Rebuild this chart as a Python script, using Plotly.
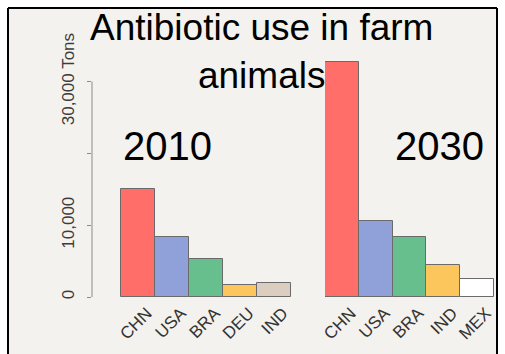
import plotly.graph_objects as go

# Antibiotic consumption in livestock, top five countries (tons)
countries_2010 = ["CHN", "USA", "BRA", "DEU", "IND"]
tons_2010 = [15100, 8300, 5300, 1700, 1900]
colors_2010 = ["#ff6e69", "#8fa1d8", "#66bf8c", "#fdc65c", "#dbcdbf"]

countries_2030 = ["CHN", "USA", "BRA", "IND", "MEX"]
tons_2030 = [32700, 10600, 8300, 4500, 2500]
colors_2030 = ["#ff6e69", "#8fa1d8", "#66bf8c", "#fdc65c", "#ffffff"]

y_tick_vals = [0, 10000, 20000, 30000]
y_tick_text = ["0", "10,000", "", "30,000 Tons"]

W, H = 505, 354
FONT = "Arial, Liberation Sans, sans-serif"


def px(x):
    return x / W


def py(y):
    return 1 - y / H


fig = go.Figure()

fig.add_trace(go.Bar(
    x=countries_2010, y=tons_2010, xaxis="x", yaxis="y",
    marker=dict(color=colors_2010, line=dict(color="#6a6a6a", width=1)),
    showlegend=False,
))
fig.add_trace(go.Bar(
    x=countries_2030, y=tons_2030, xaxis="x2", yaxis="y2",
    marker=dict(color=colors_2030, line=dict(color="#6a6a6a", width=1)),
    showlegend=False,
))

y_domain = [py(297), py(40)]
y_range = [0, 35800]
tick_font = dict(family=FONT, size=17, color="#333333")

fig.update_layout(
    width=W, height=H,
    margin=dict(l=0, r=0, t=0, b=0),
    paper_bgcolor="#ffffff",
    plot_bgcolor="rgba(0,0,0,0)",
    bargap=0,
    xaxis=dict(
        domain=[px(92), px(291)], range=[-1.35, 4.5],
        showgrid=False, zeroline=False, showline=False, ticks="",
        tickangle=-45, tickfont=tick_font, anchor="y", automargin=False,
        ticklabelshift=9, ticklabelstandoff=2,
    ),
    xaxis2=dict(
        domain=[px(325), px(494)], range=[-0.5, 4.5],
        showgrid=False, zeroline=False, showline=False, ticks="",
        tickangle=-45, tickfont=tick_font, anchor="y2", automargin=False,
        ticklabelshift=9, ticklabelstandoff=2,
    ),
    yaxis=dict(
        domain=y_domain, range=y_range,
        tickvals=y_tick_vals, ticktext=y_tick_text,
        tickangle=-90, tickfont=dict(family=FONT, size=17, color="#3c3c3c"),
        ticks="outside", ticklen=4, tickcolor="#8a8a8a", tickwidth=1,
        ticklabelstandoff=6,
        showgrid=False, zeroline=False, showline=False, anchor="x",
        automargin=False,
    ),
    yaxis2=dict(
        domain=y_domain, range=y_range, matches="y",
        showticklabels=False, ticks="",
        showgrid=False, zeroline=False, showline=False, anchor="x2",
        automargin=False,
    ),
)

# Panel background and frame
fig.add_shape(type="rect", xref="paper", yref="paper",
              x0=px(9), x1=px(496), y0=py(354), y1=py(9),
              fillcolor="#f4f2ee", line=dict(width=0), layer="below")
frame = dict(color="#000000", width=2)
fig.add_shape(type="line", xref="paper", yref="paper",
              x0=px(8), x1=px(497), y0=py(8), y1=py(8), line=frame)
fig.add_shape(type="line", xref="paper", yref="paper",
              x0=px(8), x1=px(8), y0=py(8), y1=py(354), line=frame)
fig.add_shape(type="line", xref="paper", yref="paper",
              x0=px(497), x1=px(497), y0=py(8), y1=py(354), line=frame)

# Y axis line spanning 0 to 30,000
fig.add_shape(type="line", xref="paper", yref="y",
              x0=px(92), x1=px(92), y0=0, y1=30000,
              line=dict(color="#8a8a8a", width=1))

fig.add_annotation(
    text="Antibiotic use in farm<br>animals", xref="paper", yref="paper",
    x=px(261), y=py(5), xanchor="center", yanchor="top", showarrow=False,
    font=dict(family=FONT, size=37, color="#000000"), align="center",
)
fig.add_annotation(
    text="2010", xref="paper", yref="paper", x=px(167.5), y=py(146.5),
    xanchor="center", yanchor="middle", showarrow=False,
    font=dict(family=FONT, size=40, color="#000000"),
)
fig.add_annotation(
    text="2030", xref="paper", yref="paper", x=px(439), y=py(146),
    xanchor="center", yanchor="middle", showarrow=False,
    font=dict(family=FONT, size=40, color="#000000"),
)

fig.write_html("out.html")
